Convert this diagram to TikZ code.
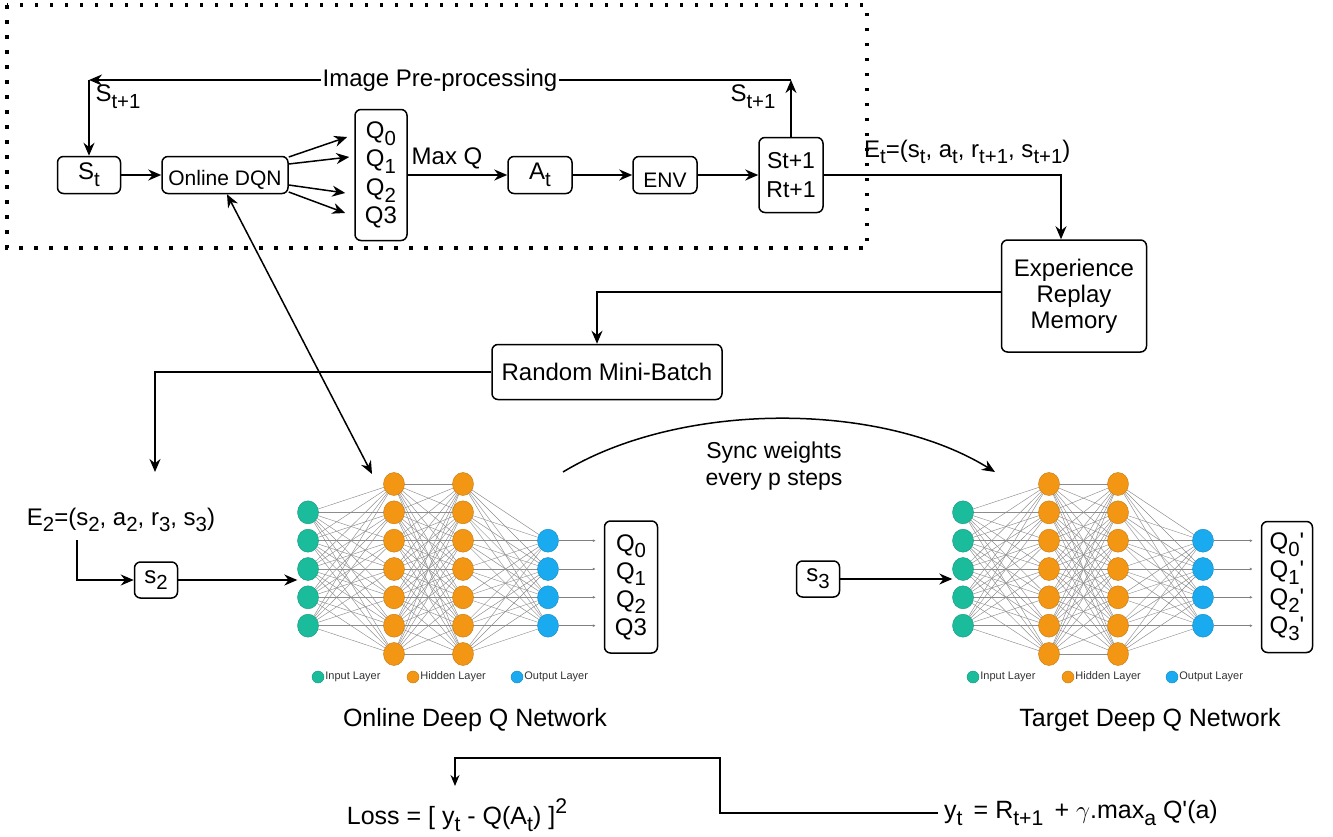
\documentclass[tikz,border=0pt]{standalone}
\usepackage{fontspec}
\setmainfont{Liberation Sans}
\usepackage{graphicx}
\usetikzlibrary{arrows.meta,shapes.geometric,calc}
\pgfdeclarelayer{background}
\pgfsetlayers{background,main}
\definecolor{inpc}{RGB}{26,188,156}
\definecolor{hidc}{RGB}{243,150,20}
\definecolor{outc}{RGB}{25,170,240}
\definecolor{edgec}{RGB}{140,140,140}
\newcommand\sbx[1]{\raisebox{-0.28em}{\scalebox{0.85}{#1}}}
\newcommand\spx[1]{\raisebox{0.45em}{\scalebox{0.85}{#1}}}
\begin{document}
\begin{tikzpicture}[x=1pt,y=-1pt,
  box/.style={draw, line width=1.5pt, rounded corners=6pt, inner sep=0pt, align=center, font=\fontsize{24}{28}\selectfont},
  lbl/.style={inner sep=0pt, align=center, font=\fontsize{24}{28}\selectfont},
  arr/.style={line width=1.5pt, -{Stealth[length=13pt,width=11pt]}},
  arrtwo/.style={line width=1.5pt, {Stealth[length=13pt,width=11pt]}-{Stealth[length=13pt,width=11pt]}},
  thinarr/.style={line width=1.2pt, -{Stealth[length=11pt,width=9pt]}},
  nnedge/.style={draw=edgec, line width=0.45pt},
  outarr/.style={draw=gray, line width=0.6pt, -{Latex[length=3pt,width=3pt]}},
  neu/.style={ellipse, minimum width=21pt, minimum height=23pt, inner sep=0pt, line width=0.4pt},
  inp/.style={neu, fill=inpc, draw=inpc!80!black},
  hid/.style={neu, fill=hidc, draw=hidc!80!black},
  outn/.style={neu, fill=outc, draw=outc!80!black},
  dot/.style={circle, minimum size=12pt, inner sep=0pt, line width=0.4pt},
  legt/.style={anchor=west, inner sep=1pt, font=\fontsize{11}{13}\selectfont, text=black!80},
  frame/.style={line width=3.5pt, dash pattern=on 3.5pt off 11.5pt}
]
\useasboundingbox (0,0) rectangle (1333,836);

% dotted frame
\draw[frame] (7,5) rectangle (867,248);

% top row
\node[box, minimum width=63pt, minimum height=37pt] (st) at (89,175) {S\sbx{t}};
\node[box, minimum width=126pt, minimum height=37pt, text height=24pt, font=\fontsize{21}{24}\selectfont] (dqn) at (225,175) {Online DQN};
\node[box, minimum width=52pt, minimum height=131pt, font=\fontsize{24}{28.5}\selectfont] (qtop) at (381,175) {Q\sbx{0}\\Q\sbx{1}\\Q\sbx{2}\\Q3};
\node[box, minimum width=64pt, minimum height=37pt] (at) at (540,175) {A\sbx{t}};
\node[box, minimum width=64pt, minimum height=37pt, text height=24pt, font=\fontsize{21}{24}\selectfont] (env) at (665,175) {ENV};
\node[box, minimum width=64pt, minimum height=75pt, font=\fontsize{23}{29}\selectfont] (sr) at (791,175) {St+1\\Rt+1};
\node[box, minimum width=145pt, minimum height=112pt, font=\fontsize{24}{26}\selectfont] (erm) at (1074,296) {Experience\\Replay\\Memory};
\node[box, minimum width=230pt, minimum height=55pt] (rmb) at (607,372) {Random Mini-Batch};

\node[lbl] (s1a) at (118,97) {S\sbx{t+1}};
\node[lbl] (s1b) at (753,97) {S\sbx{t+1}};
\node[lbl] (maxq) at (447,158) {Max Q};
\node[lbl, anchor=west] (et) at (864,152) {E\sbx{t}=(s\sbx{t}, a\sbx{t}, r\sbx{t+1}, s\sbx{t+1})};

\coordinate (tr) at (791,80);
\coordinate (tl) at (89,80);

\draw[arr] (st) -- (dqn);
\draw[arr] ($(dqn.east)+(0,-18)$) -- ($(qtop.west)+(-7,-38)$);
\draw[arr] ($(dqn.east)+(0,-11)$) -- ($(qtop.west)+(-5,-18)$);
\draw[arr] ($(dqn.east)+(0,10)$) -- ($(qtop.west)+(-9,18)$);
\draw[arr] ($(dqn.east)+(0,17)$) -- ($(qtop.west)+(-9,38)$);
\draw[arr] (qtop) -- (at);
\draw[arr] (at) -- (env);
\draw[arr] (env) -- (sr);
\draw[arr] (sr) -- (tr);
\draw[arr] (tr) -- node[lbl, fill=white, inner xsep=2pt, inner ysep=3pt] (ipp) {Image Pre-processing} (tl);
\draw[arr] (tl) -- (st);
\draw[arr] (sr) -| ($(erm.north)+(-13,0)$);
\draw[arr] ($(erm.west)+(0,-4)$) -| ($(rmb.north)+(-10,0)$);

% middle
\coordinate (e2top) at (155,472);
\coordinate (e2b) at (77,540);
\node[lbl] (e2) at (121,520) {E\sbx{2}=(s\sbx{2}, a\sbx{2}, r\sbx{3}, s\sbx{3})};
\node[box, minimum width=43pt, minimum height=36pt] (s2) at (156,580) {s\sbx{2}};
\node[box, minimum width=43pt, minimum height=36pt] (s3) at (818,579) {s\sbx{3}};
\draw[arr] (rmb) -| (e2top);
\draw[arr] (e2b) |- (s2);

% networks
\foreach \p/\dx in {on/0,tg/655}{
  \foreach \k in {2,...,6} \node[inp] (\p-a\k) at ({308+\dx},{484+28.33*(\k-1)}) {};
  \foreach \k in {1,...,7} \node[hid] (\p-b\k) at ({394+\dx},{484+28.33*(\k-1)}) {};
  \foreach \k in {1,...,7} \node[hid] (\p-c\k) at ({463+\dx},{484+28.33*(\k-1)}) {};
  \foreach \k in {3,...,6} \node[outn] (\p-d\k) at ({548+\dx},{484+28.33*(\k-1)}) {};
  \node[dot, fill=inpc, draw=inpc!80!black] (\p-l1) at ({318+\dx},677) {};
  \node[legt] (\p-t1) at (\p-l1.east) {Input Layer};
  \node[dot, fill=hidc, draw=hidc!80!black] (\p-l2) at ({413+\dx},677) {};
  \node[legt] (\p-t2) at (\p-l2.east) {Hidden Layer};
  \node[dot, fill=outc, draw=outc!80!black] (\p-l3) at ({517+\dx},677) {};
  \node[legt] (\p-t3) at (\p-l3.east) {Output Layer};
}
\begin{pgfonlayer}{background}
\foreach \p in {on,tg}{
  \foreach \i in {2,...,6}{\foreach \j in {1,...,7}{\draw[nnedge] (\p-a\i.center) -- (\p-b\j.center);}}
  \foreach \i in {1,...,7}{\foreach \j in {1,...,7}{\draw[nnedge] (\p-b\i.center) -- (\p-c\j.center);}}
  \foreach \i in {1,...,7}{\foreach \j in {3,...,6}{\draw[nnedge] (\p-c\i.center) -- (\p-d\j.center);}}
}
\end{pgfonlayer}

\node[box, minimum width=53pt, minimum height=132pt, font=\fontsize{24}{28}\selectfont] (on-q) at (631,587) {Q\sbx{0}\\Q\sbx{1}\\Q\sbx{2}\\Q3};
\node[box, minimum width=51pt, minimum height=131pt, font=\fontsize{24}{28}\selectfont] (tg-q) at (1287,587) {Q\sbx{0}\textquotesingle\\Q\sbx{1}\textquotesingle\\Q\sbx{2}\textquotesingle\\Q\sbx{3}\textquotesingle};

\foreach \p in {on,tg}{\foreach \k in {3,...,6}{\draw[outarr] (\p-d\k) -- ($(\p-d\k -| \p-q.west)+(-8,0)$);}}

\draw[arr] (s2) -- (s2 -| on-a4.west);
\draw[arr] (s3) -- (s3 -| tg-a4.west);

\coordinate (dtip) at (372,474);
\draw[arrtwo] ($(dqn.south)+(2,0)$) -- (dtip);

\coordinate (syncs) at (563,472);
\coordinate (synce) at (995,472);
\draw[arr] (syncs) .. controls (680,401) and (880,401) .. (synce);
\node[lbl, font=\fontsize{23}{27}\selectfont] (sync) at (774,466) {Sync weights\\every p steps};

\node[lbl, font=\fontsize{25}{28}\selectfont] (onl) at (475,720) {Online Deep Q Network};
\node[lbl, font=\fontsize{25}{28}\selectfont] (tgl) at (1150,720) {Target Deep Q Network};

% bottom
\node[lbl, font=\fontsize{25}{28}\selectfont] (loss) at (457,815) {Loss = [ y\sbx{t} - Q(A\sbx{t}) ]\spx{2}};
\node[lbl, anchor=west, inner xsep=6pt, font=\fontsize{25}{28}\selectfont] (yt) at (938,813) {y\sbx{t}\, = R\sbx{t+1}\, + $\gamma$.max\sbx{a} Q\textquotesingle(a)};
\coordinate (bk) at (720,758);
\coordinate (lossin) at (455,786);
\draw[thinarr] (yt) -| (bk) -| (lossin);
\end{tikzpicture}
\end{document}
